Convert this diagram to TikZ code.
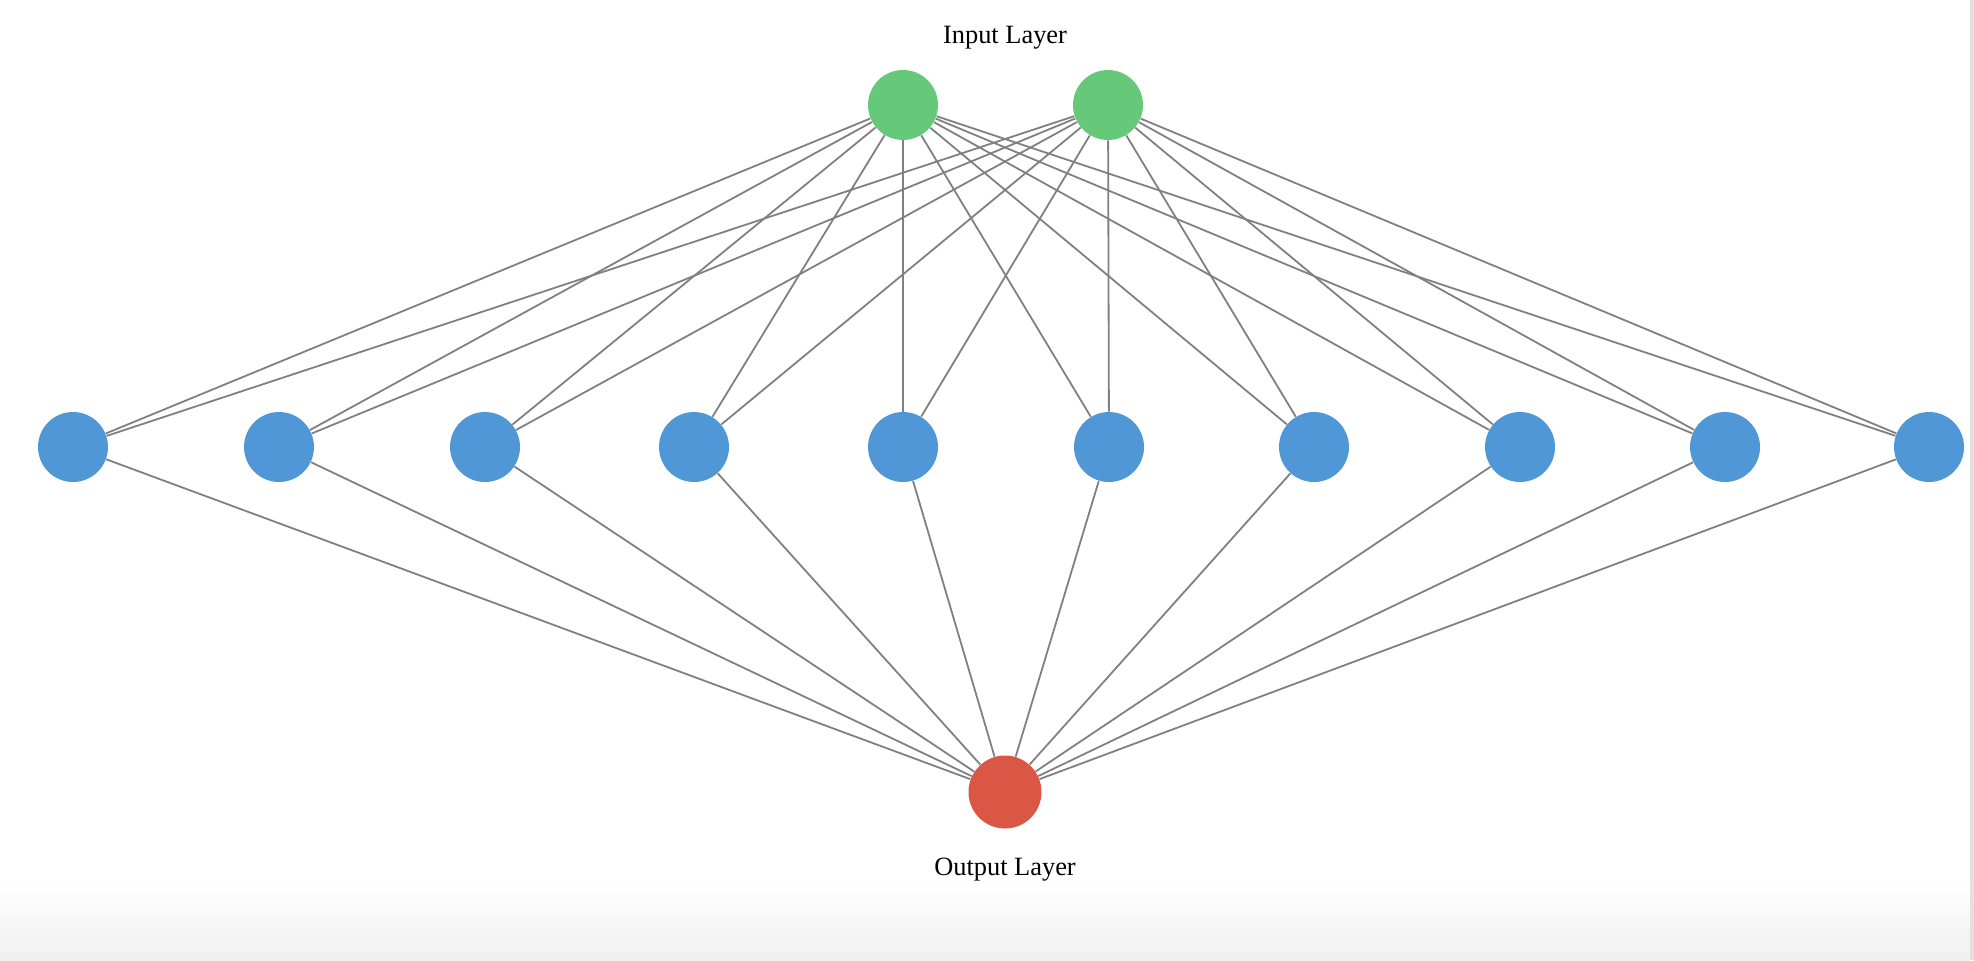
\documentclass[tikz,border=0pt]{standalone}
\usepackage{fontspec}
\setmainfont{Liberation Serif}
\definecolor{inputgreen}{HTML}{66C97A}
\definecolor{hiddenblue}{HTML}{4F97D6}
\definecolor{outputred}{HTML}{D95744}
\definecolor{linkgray}{HTML}{808080}
\definecolor{edgebar}{HTML}{E2E2DA}
\begin{document}
\begin{tikzpicture}[x=.5pt,y=-.5pt,
  neuron/.style={circle,minimum size=35pt,inner sep=0pt},
  link/.style={draw=linkgray,line width=.9pt},
  layername/.style={anchor=base,font=\fontsize{13.2}{16}\selectfont}]
\useasboundingbox(0,0)rectangle(1974,960);
\shade[top color=white,bottom color=black!6](0,880)rectangle(1970,960);
\fill[edgebar](1970,0)rectangle(1974,960);
% input layer
\node[neuron,fill=inputgreen](i1)at(903,105){};
\node[neuron,fill=inputgreen](i2)at(1108,105){};
\node[layername](inlabel)at(1005,43){Input Layer};
% hidden layer
\foreach\x[count=\k]in{73,279,485,694,903,1109,1314,1520,1725,1929}
  \node[neuron,fill=hiddenblue](h\k)at(\x,447){};
% output layer
\node[neuron,fill=outputred,minimum size=36.5pt](o)at(1005,792){};
\node[layername](outlabel)at(1005,875){Output Layer};
\foreach\k in{1,...,10}{
  \draw[link](i1)--(h\k);
  \draw[link](i2)--(h\k);
  \draw[link](h\k)--(o);
}
\end{tikzpicture}
\end{document}
